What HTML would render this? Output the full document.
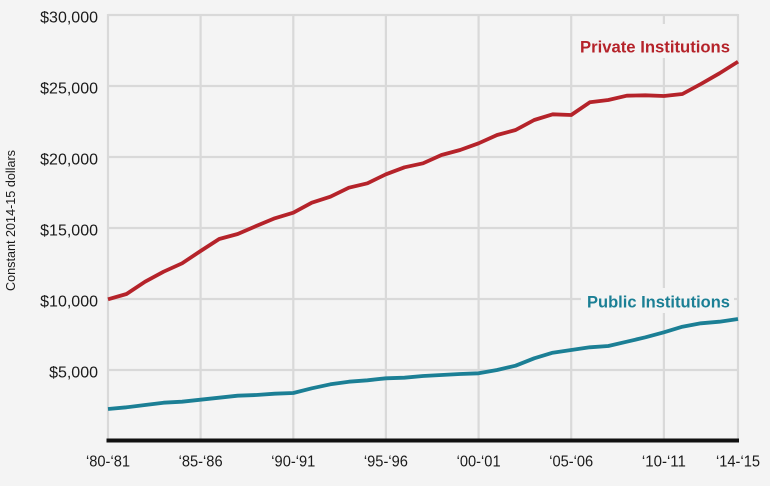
<!DOCTYPE html>
<html>
<head>
<meta charset="utf-8">
<style>
html,body{margin:0;padding:0;background:#f4f4f4;}
svg{display:block;}
text{font-family:"Liberation Sans",Arial,sans-serif;}
</style>
</head>
<body>
<svg width="770" height="486" viewBox="0 0 770 486" xmlns="http://www.w3.org/2000/svg">
<rect x="0" y="0" width="770" height="486" fill="#f4f4f4"/>
<!-- horizontal grid -->
<g stroke="#d9d9d9" stroke-width="2.2" fill="none">
<line x1="108" y1="15" x2="738" y2="15"/>
<line x1="108" y1="86" x2="738" y2="86"/>
<line x1="108" y1="157" x2="738" y2="157"/>
<line x1="108" y1="228" x2="738" y2="228"/>
<line x1="108" y1="299" x2="738" y2="299"/>
<line x1="108" y1="370" x2="738" y2="370"/>
<!-- vertical grid -->
<line x1="108" y1="14" x2="108" y2="440"/>
<line x1="200.6" y1="14" x2="200.6" y2="440"/>
<line x1="293.3" y1="14" x2="293.3" y2="440"/>
<line x1="385.9" y1="14" x2="385.9" y2="440"/>
<line x1="478.6" y1="14" x2="478.6" y2="440"/>
<line x1="571.2" y1="14" x2="571.2" y2="440"/>
<line x1="663.9" y1="14" x2="663.9" y2="440"/>
<line x1="738" y1="14" x2="738" y2="440"/>
</g>
<!-- label backgrounds -->
<rect x="575" y="24" width="159" height="34" fill="#f4f4f4"/>
<rect x="581" y="288" width="153" height="25" fill="#f4f4f4"/>
<!-- baseline -->
<rect x="106.5" y="438.5" width="632.5" height="4" fill="#111"/>
<!-- series -->
<polyline fill="none" stroke="#b5232a" stroke-width="3.8" stroke-linejoin="round" stroke-linecap="butt"
points="108,299.3 126.5,294 145.1,281.7 163.6,271.7 182.1,263.3 200.6,251 219.2,239 237.7,234 256.2,226 274.8,218.3 293.3,212.7 311.8,202.7 330.4,196.7 348.9,187.7 367.4,183.3 385.9,174.3 404.5,167.3 423,163.3 441.5,155 460.1,150 478.6,143.3 497.1,135 515.6,130 534.2,120 552.7,114.3 571.2,115 589.8,102.3 608.3,100 626.8,95.7 645.4,95.3 663.9,96 682.4,94 700.9,84 719.5,73.3 738,61.7"/>
<polyline fill="none" stroke="#1b7f95" stroke-width="3.8" stroke-linejoin="round" stroke-linecap="butt"
points="108,409 126.5,407.3 145.1,405 163.6,402.7 182.1,401.7 200.6,399.7 219.2,397.7 237.7,395.7 256.2,395 274.8,393.7 293.3,393 311.8,388.3 330.4,384.3 348.9,381.7 367.4,380.3 385.9,378.3 404.5,377.7 423,376 441.5,375 460.1,374 478.6,373.3 497.1,370 515.6,365.7 534.2,358.3 552.7,352.7 571.2,350 589.8,347.3 608.3,346 626.8,341.7 645.4,337.3 663.9,332.3 682.4,326.7 700.9,323.3 719.5,321.7 738,319"/>
<!-- series labels -->
<text x="730" y="52.3" text-anchor="end" font-size="17" font-weight="bold" fill="#b5232a" textLength="150" lengthAdjust="spacingAndGlyphs">Private Institutions</text>
<text x="730" y="307.3" text-anchor="end" font-size="17" font-weight="bold" fill="#1b7f95" textLength="143" lengthAdjust="spacingAndGlyphs">Public Institutions</text>
<!-- y tick labels -->
<g font-size="16" fill="#1a1a1a" text-anchor="end">
<text x="98" y="22.7">$30,000</text>
<text x="98" y="93.7">$25,000</text>
<text x="98" y="164.7">$20,000</text>
<text x="98" y="235.7">$15,000</text>
<text x="98" y="306.7">$10,000</text>
<text x="98" y="377.7">$5,000</text>
</g>
<!-- x tick labels -->
<g font-size="16" fill="#1a1a1a" text-anchor="middle">
<text x="108" y="466.7" textLength="44" lengthAdjust="spacingAndGlyphs">‘80-‘81</text>
<text x="200.6" y="466.7" textLength="44" lengthAdjust="spacingAndGlyphs">‘85-‘86</text>
<text x="293.3" y="466.7" textLength="44" lengthAdjust="spacingAndGlyphs">‘90-‘91</text>
<text x="385.9" y="466.7" textLength="44" lengthAdjust="spacingAndGlyphs">‘95-‘96</text>
<text x="478.6" y="466.7" textLength="44" lengthAdjust="spacingAndGlyphs">‘00-‘01</text>
<text x="571.2" y="466.7" textLength="44" lengthAdjust="spacingAndGlyphs">‘05-‘06</text>
<text x="663.9" y="466.7" textLength="44" lengthAdjust="spacingAndGlyphs">‘10-‘11</text>
<text x="738" y="466.7" textLength="44" lengthAdjust="spacingAndGlyphs">‘14-‘15</text>
</g>
<!-- y axis title -->
<text transform="translate(15,220.5) rotate(-90)" text-anchor="middle" font-size="13" fill="#1a1a1a" textLength="141" lengthAdjust="spacingAndGlyphs">Constant 2014-15 dollars</text>
</svg>
</body>
</html>
